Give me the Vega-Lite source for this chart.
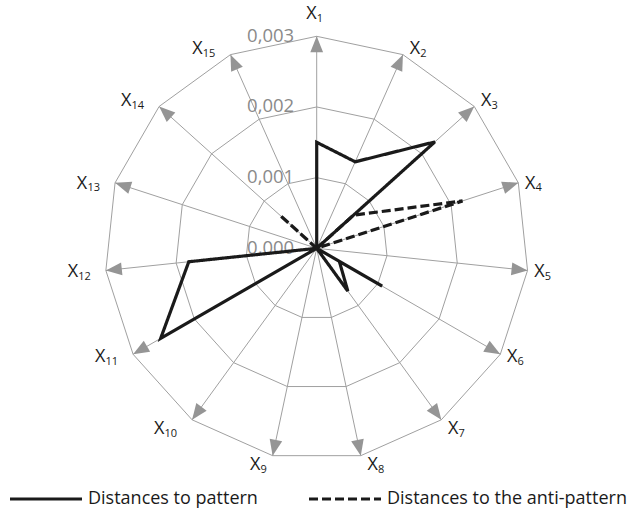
{
  "$schema": "https://vega.github.io/schema/vega-lite/v6.json",
  "width": 633,
  "height": 518,
  "padding": 0,
  "autosize": {"type": "none"},
  "background": "white",
  "config": {"view": {"stroke": null}, "font": "Open Sans"},
  "datasets": {
    "spokes": [
      {"i": 1, "n": "1", "levels": [0.001, 0.002, 0.003]},
      {"i": 2, "n": "2", "levels": [0.001, 0.002, 0.003]},
      {"i": 3, "n": "3", "levels": [0.001, 0.002, 0.003]},
      {"i": 4, "n": "4", "levels": [0.001, 0.002, 0.003]},
      {"i": 5, "n": "5", "levels": [0.001, 0.002, 0.003]},
      {"i": 6, "n": "6", "levels": [0.001, 0.002, 0.003]},
      {"i": 7, "n": "7", "levels": [0.001, 0.002, 0.003]},
      {"i": 8, "n": "8", "levels": [0.001, 0.002, 0.003]},
      {"i": 9, "n": "9", "levels": [0.001, 0.002, 0.003]},
      {"i": 10, "n": "10", "levels": [0.001, 0.002, 0.003]},
      {"i": 11, "n": "11", "levels": [0.001, 0.002, 0.003]},
      {"i": 12, "n": "12", "levels": [0.001, 0.002, 0.003]},
      {"i": 13, "n": "13", "levels": [0.001, 0.002, 0.003]},
      {"i": 14, "n": "14", "levels": [0.001, 0.002, 0.003]},
      {"i": 15, "n": "15", "levels": [0.001, 0.002, 0.003]}
    ],
    "ticks": [
      {"v": 0, "t": "0,000"},
      {"v": 0.001, "t": "0,001"},
      {"v": 0.002, "t": "0,002"},
      {"v": 0.003, "t": "0,003"}
    ],
    "series": [
      {"series": "Distances to pattern", "ord": 1, "i": 1, "value": 0.0015},
      {"series": "Distances to pattern", "ord": 2, "i": 2, "value": 0.00134},
      {"series": "Distances to pattern", "ord": 3, "i": 3, "value": 0.00225},
      {"series": "Distances to pattern", "ord": 4, "i": 4, "value": 0},
      {"series": "Distances to pattern", "ord": 5, "i": 5, "value": 0},
      {"series": "Distances to pattern", "ord": 6, "i": 6, "value": 0.00107},
      {"series": "Distances to pattern", "ord": 7, "i": 6, "value": 0.00037},
      {"series": "Distances to pattern", "ord": 8, "i": 7, "value": 0.00075},
      {"series": "Distances to pattern", "ord": 9, "i": 8, "value": 0},
      {"series": "Distances to pattern", "ord": 10, "i": 9, "value": 0},
      {"series": "Distances to pattern", "ord": 11, "i": 10, "value": 0},
      {"series": "Distances to pattern", "ord": 12, "i": 11, "value": 0.00255},
      {"series": "Distances to pattern", "ord": 13, "i": 12, "value": 0.00182},
      {"series": "Distances to pattern", "ord": 14, "i": 13, "value": 0},
      {"series": "Distances to pattern", "ord": 15, "i": 14, "value": 0},
      {"series": "Distances to pattern", "ord": 16, "i": 15, "value": 0},
      {"series": "Distances to the anti-pattern", "ord": 1, "i": 1, "value": 0},
      {"series": "Distances to the anti-pattern", "ord": 2, "i": 2, "value": 0},
      {"series": "Distances to the anti-pattern", "ord": 3, "i": 3, "value": 0.0007},
      {"series": "Distances to the anti-pattern", "ord": 4, "i": 4, "value": 0.00217},
      {"series": "Distances to the anti-pattern", "ord": 5, "i": 5, "value": 0},
      {"series": "Distances to the anti-pattern", "ord": 6, "i": 6, "value": 0},
      {"series": "Distances to the anti-pattern", "ord": 7, "i": 7, "value": 0},
      {"series": "Distances to the anti-pattern", "ord": 8, "i": 8, "value": 0},
      {"series": "Distances to the anti-pattern", "ord": 9, "i": 9, "value": 0},
      {"series": "Distances to the anti-pattern", "ord": 10, "i": 10, "value": 0},
      {"series": "Distances to the anti-pattern", "ord": 11, "i": 11, "value": 0},
      {"series": "Distances to the anti-pattern", "ord": 12, "i": 12, "value": 0},
      {"series": "Distances to the anti-pattern", "ord": 13, "i": 13, "value": 0},
      {"series": "Distances to the anti-pattern", "ord": 14, "i": 14, "value": 0.0007},
      {"series": "Distances to the anti-pattern", "ord": 15, "i": 15, "value": 0}
    ]
  },
  "encoding": {
    "x": {"field": "x", "type": "quantitative", "scale": {"domain": [-316.7, 316.3], "nice": false, "zero": false}, "axis": null},
    "y": {"field": "y", "type": "quantitative", "scale": {"domain": [-269.7, 248.3], "nice": false, "zero": false}, "axis": null}
  },
  "layer": [
    {
      "data": {"name": "spokes"},
      "transform": [
        {"flatten": ["levels"], "as": ["lev"]},
        {"calculate": "(datum.i - 1) * 24 * PI / 180", "as": "theta"},
        {"calculate": "datum.lev / 0.003 * 212 * sin(datum.theta)", "as": "x"},
        {"calculate": "datum.lev / 0.003 * 212 * cos(datum.theta)", "as": "y"}
      ],
      "mark": {"type": "line", "interpolate": "linear-closed", "stroke": "#a0a0a0", "strokeWidth": 1},
      "encoding": {
        "detail": {"field": "lev", "type": "nominal"},
        "order": {"field": "i", "type": "quantitative"}
      }
    },
    {
      "data": {"name": "spokes"},
      "transform": [
        {"calculate": "(datum.i - 1) * 24 * PI / 180", "as": "theta"},
        {"calculate": "0", "as": "x"},
        {"calculate": "0", "as": "y"},
        {"calculate": "212 * sin(datum.theta)", "as": "tx"},
        {"calculate": "212 * cos(datum.theta)", "as": "ty"}
      ],
      "mark": {"type": "rule", "stroke": "#a0a0a0", "strokeWidth": 1},
      "encoding": {
        "x2": {"field": "tx"},
        "y2": {"field": "ty"}
      }
    },
    {
      "data": {"name": "spokes"},
      "transform": [
        {"calculate": "(datum.i - 1) * 24", "as": "deg"},
        {"calculate": "212 * sin(datum.deg * PI / 180)", "as": "x"},
        {"calculate": "212 * cos(datum.deg * PI / 180)", "as": "y"}
      ],
      "mark": {"type": "point", "shape": "M0,0L0.8,2L-0.8,2Z", "filled": true, "fill": "#959595", "strokeWidth": 0, "size": 256, "opacity": 1},
      "encoding": {
        "angle": {"field": "deg", "type": "quantitative", "scale": null}
      }
    },
    {
      "data": {"name": "ticks"},
      "transform": [
        {"calculate": "0", "as": "x"},
        {"calculate": "datum.v / 0.003 * 212", "as": "y"}
      ],
      "mark": {"type": "text", "align": "right", "baseline": "alphabetic", "dx": -22.5, "dy": 5.4, "fontSize": 18.5, "font": "Open Sans", "fill": "#8a8a8a"},
      "encoding": {"text": {"field": "t"}}
    },
    {
      "data": {"name": "series"},
      "transform": [
        {"calculate": "(datum.i - 1) * 24 * PI / 180", "as": "theta"},
        {"calculate": "datum.value / 0.003 * 212 * sin(datum.theta)", "as": "x"},
        {"calculate": "datum.value / 0.003 * 212 * cos(datum.theta)", "as": "y"}
      ],
      "mark": {"type": "line", "interpolate": "linear-closed", "stroke": "#1a1a1a", "strokeWidth": 3.2},
      "encoding": {
        "order": {"field": "ord", "type": "quantitative"},
        "strokeDash": {
          "field": "series",
          "type": "nominal",
          "scale": {"domain": ["Distances to pattern", "Distances to the anti-pattern"], "range": [[1, 0], [9, 4]]},
          "legend": {
            "title": null,
            "orient": "none",
            "legendX": 8,
            "legendY": 461,
            "direction": "horizontal",
            "padding": 0,
            "symbolType": "stroke",
            "symbolSize": 5184,
            "symbolStrokeWidth": 3.2,
            "symbolStrokeColor": "#1a1a1a",
            "labelFont": "Open Sans",
            "labelFontSize": 18,
            "labelColor": "#1a1a1a",
            "labelOffset": 4,
            "columnPadding": 44,
            "labelLimit": 400
          }
        }
      }
    },
    {
      "data": {"name": "spokes"},
      "transform": [
        {"calculate": "(datum.i - 1) * 24 * PI / 180", "as": "theta"},
        {"calculate": "sin(datum.theta)", "as": "s"},
        {"calculate": "cos(datum.theta)", "as": "c"},
        {"calculate": "datum.i == 1 ? -5.3 : (datum.s > 0 ? 12 : (datum.i == 9 ? -17.5 : -33))", "as": "dxo"},
        {"calculate": "datum.i == 1 ? -23.5 : (datum.c > 0.6 ? -7 : (datum.c < -0.6 ? 8 : -3 * datum.c))", "as": "dyo"},
        {"calculate": "212 * datum.s + datum.dxo", "as": "x"},
        {"calculate": "212 * datum.c - datum.dyo - 6.65", "as": "y"}
      ],
      "layer": [
        {
          "mark": {"type": "text", "align": "center", "baseline": "alphabetic", "fontSize": 18, "font": "Open Sans", "fill": "#1a1a1a", "text": "X"}
        },
        {
          "mark": {"type": "text", "align": "left", "baseline": "alphabetic", "dx": 5.3, "dy": 2.7, "fontSize": 11, "font": "Open Sans", "fill": "#1a1a1a"},
          "encoding": {"text": {"field": "n"}}
        }
      ]
    }
  ]
}
